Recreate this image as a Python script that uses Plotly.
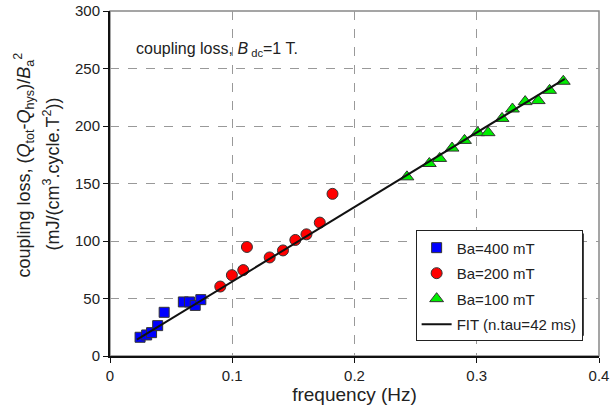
import plotly.graph_objects as go

# Data
freq_400 = [0.0246, 0.030, 0.034, 0.039, 0.0443, 0.060, 0.065, 0.0697, 0.0743]
loss_400 = [16.3, 18.3, 20.3, 26.4, 38.0, 47.0, 47.0, 44.0, 49.0]

freq_200 = [0.0902, 0.0997, 0.109, 0.112, 0.1306, 0.1415, 0.1516, 0.1607, 0.1716, 0.182]
loss_200 = [60.4, 70.3, 74.7, 94.8, 85.7, 91.8, 100.9, 105.8, 116.0, 141.0]

freq_100 = [0.2429, 0.2612, 0.2697, 0.2798, 0.290, 0.3008, 0.3093, 0.3207, 0.3292,
            0.3396, 0.3503, 0.3596, 0.3708]
loss_100 = [155.8, 167.4, 171.8, 180.8, 187.5, 194.2, 194.2, 206.6, 214.8,
            221.2, 222.1, 231.0, 238.9]

fit_freq = [0.022, 0.372]
fit_loss = [14.2, 241.0]

x_ticks = [0, 0.1, 0.2, 0.3, 0.4]
x_tick_labels = ["0", "0.1", "0.2", "0.3", "0.4"]
y_ticks = [0, 50, 100, 150, 200, 250, 300]

FONT = "Liberation Sans, Arial, sans-serif"
TXT = "#222222"

fig = go.Figure()
fig.add_trace(go.Scatter(
    x=freq_400, y=loss_400, mode="markers", name="Ba=400 mT", legendgroup="a",
    marker=dict(symbol="square", size=10, color="#0000ff",
                line=dict(color="#333333", width=1))))
fig.add_trace(go.Scatter(
    x=freq_200, y=loss_200, mode="markers", name="Ba=200 mT", legendgroup="b",
    marker=dict(symbol="circle", size=11, color="#ff0000",
                line=dict(color="#333333", width=1))))
fig.add_trace(go.Scatter(
    x=freq_100, y=loss_100, mode="markers", name="Ba=100 mT", legendgroup="c",
    marker=dict(symbol="triangle-up", size=12, color="#00ee00",
                line=dict(color="#333333", width=1))))
fig.add_trace(go.Scatter(
    x=fit_freq, y=fit_loss, mode="lines", name="FIT (n.tau=42 ms)", legendgroup="d",
    line=dict(color="#111111", width=2)))

# frame (gray top/right)
fig.add_shape(type="rect", xref="paper", yref="paper", x0=0, x1=1, y0=0, y1=1,
              line=dict(color="#888888", width=1.5), layer="below")
# legend shadow
fig.add_shape(type="rect", xref="paper", yref="paper",
              x0=0.632, x1=0.969, y0=0.059, y1=0.355,
              line=dict(width=0), fillcolor="#222222", layer="above")

fig.add_annotation(x=0.0196, y=266.5, xref="x", yref="y", xanchor="left",
                   text="coupling loss, <i>B</i><sub> dc</sub>=1 T.",
                   showarrow=False, font=dict(size=16, color=TXT, family=FONT))

# y-axis title (two lines)
fig.add_annotation(x=(24 - 110) / 489, y=0.552, xref="paper", yref="paper",
                   xanchor="center", yanchor="middle",
                   textangle=-90, showarrow=False,
                   text="coupling loss, (<i>Q</i><sub>tot</sub>-<i>Q</i><sub>hys</sub>)/<i>B</i><sub>a</sub><sup>2</sup>",
                   font=dict(size=18, color=TXT, family=FONT))
fig.add_annotation(x=(52 - 110) / 489, y=0.526, xref="paper", yref="paper",
                   xanchor="center", yanchor="middle",
                   textangle=-90, showarrow=False,
                   text="(mJ/(cm<sup>3</sup>.cycle.T<sup>2</sup>))",
                   font=dict(size=18, color=TXT, family=FONT))

fig.update_layout(
    width=611, height=411,
    margin=dict(l=110, r=12, t=11, b=55),
    paper_bgcolor="white", plot_bgcolor="white",
    font=dict(family=FONT, size=15, color=TXT),
    showlegend=True,
    legend=dict(x=0.625, y=0.364, xanchor="left", yanchor="top",
                bgcolor="white", bordercolor="#222222", borderwidth=1,
                font=dict(size=15, color=TXT, family=FONT),
                traceorder="grouped", tracegroupgap=3),
    xaxis=dict(range=[0, 0.4], tickvals=x_ticks, ticktext=x_tick_labels,
               showgrid=True, gridcolor="#999999", griddash="dash", gridwidth=1,
               showline=True, linecolor="#111111", linewidth=2,
               ticks="outside", ticklen=5, tickcolor="#111111",
               zeroline=False, automargin=False, tickfont=dict(size=15),
               title=dict(text="frequency (Hz)", font=dict(size=19), standoff=4)),
    yaxis=dict(range=[0, 300], tickvals=y_ticks,
               showgrid=True, gridcolor="#999999", griddash="dash", gridwidth=1,
               showline=True, linecolor="#111111", linewidth=2,
               ticks="outside", ticklen=5, tickcolor="#111111",
               zeroline=False, automargin=False, tickfont=dict(size=15)),
)

fig.write_html("out.html", config={"displayModeBar": False},
               post_script="document.body.style.margin='0';")
